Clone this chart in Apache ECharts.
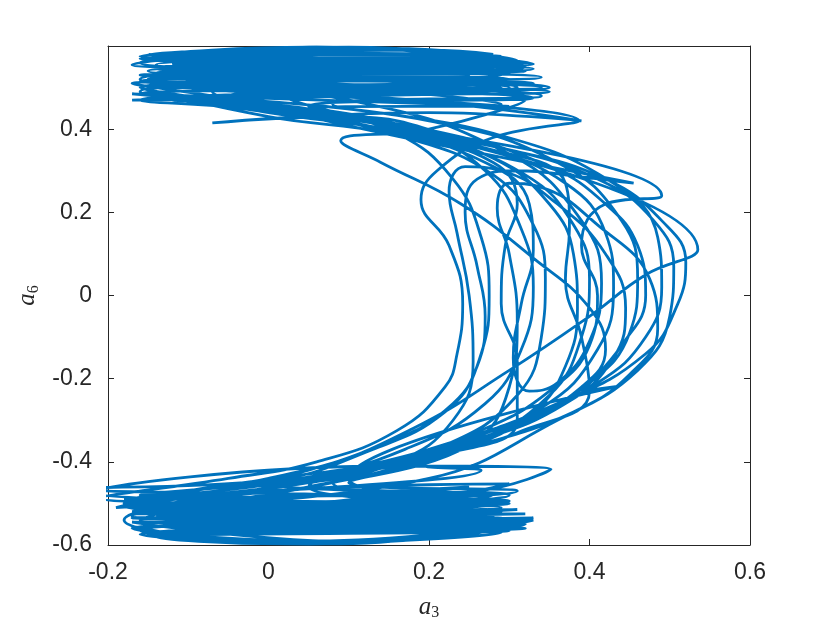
<!DOCTYPE html>
<html>
<head>
<meta charset="utf-8">
<script src="https://cdn.jsdelivr.net/npm/echarts@6/dist/echarts.min.js"></script>
<style>
  html, body { margin: 0; background: #fff; }
  #chart { width: 830px; height: 623px; }
</style>
</head>
<body>
<div id="chart"></div>
<script>
// trajectory pieces, [a3, a6] pairs
// top* = sweeps in the upper band, down* = drop to the lower band,
// bot* = sweeps in the lower band, up* = climb back, loop* = excursion out of a band and back
const top1 = [[0.02,0.45],[-0.16,0.50],[0.34,0.525],[-0.16,0.56],[0.06,0.597],[0.33,0.557],[-0.10,0.55],[0.28,0.545],[-0.15,0.52],[0.35,0.49],[-0.02,0.47],[0.455,0.27]];
const down1 = [[0.39,0.285],[0.31,0.30],[0.26,0.28],[0.245,0.20],[0.26,0.07],[0.27,-0.05],[0.26,-0.17],[0.22,-0.28],[0.13,-0.37],[0.0,-0.445],[-0.23,-0.465]];
const bot1 = [[0.10,-0.48],[0.30,-0.494],[-0.18,-0.50],[0.29,-0.52],[-0.16,-0.565],[0.10,-0.595],[0.33,-0.535],[-0.12,-0.55],[0.27,-0.545],[-0.17,-0.53]];
const up1 = [[0.08,-0.45],[0.25,-0.36],[0.35,-0.24],[0.39,-0.10],[0.40,0.04],[0.38,0.17],[0.32,0.29],[0.20,0.38],[0.03,0.45]];

const top2 = [[-0.15,0.49],[0.30,0.55],[-0.13,0.575],[0.10,0.593],[0.31,0.565],[-0.08,0.56],[0.26,0.55],[-0.14,0.535],[0.33,0.51],[-0.10,0.50],[0.387,0.42]];
const down2 = [[0.28,0.38],[0.21,0.30],[0.19,0.23],[0.225,0.12],[0.242,-0.02],[0.235,-0.14],[0.22,-0.22],[0.16,-0.325],[0.06,-0.40],[-0.05,-0.44],[-0.21,-0.487]];
const bot2 = [[0.12,-0.50],[0.30,-0.453],[0.0,-0.47],[-0.18,-0.54],[0.06,-0.59],[0.29,-0.555],[-0.15,-0.57],[0.05,-0.598],[0.31,-0.545],[-0.17,-0.51],[0.30,-0.50],[0.10,-0.44],[0.437,-0.218]];
const up2 = [[0.39,-0.23],[0.44,-0.12],[0.47,0.0],[0.46,0.12],[0.42,0.22],[0.35,0.31],[0.22,0.39],[0.05,0.44]];

const top3 = [[-0.17,0.485],[0.30,0.455],[-0.12,0.53],[0.29,0.565],[-0.16,0.57],[0.20,0.59],[0.28,0.58],[-0.05,0.585],[0.24,0.56],[-0.11,0.545],[0.35,0.50],[0.02,0.48],[0.535,0.11]];
const down3 = [[0.47,0.05],[0.40,-0.05],[0.30,-0.18],[0.18,-0.32],[0.05,-0.42],[-0.10,-0.47],[-0.19,-0.51]];
const bot3 = [[0.25,-0.46],[-0.15,-0.55],[0.32,-0.56],[-0.16,-0.575],[0.04,-0.597],[0.28,-0.565],[-0.10,-0.56],[0.31,-0.515],[-0.14,-0.52]];
const up3 = [[0.05,-0.46],[0.20,-0.39],[0.31,-0.30],[0.31,-0.16],[0.29,-0.02],[0.295,0.12],[0.31,0.22],[0.28,0.32],[0.15,0.39],[0.0,0.43]];

const top4 = [[-0.16,0.50],[0.27,0.51],[-0.14,0.525],[0.32,0.54],[-0.17,0.555],[0.15,0.592],[0.30,0.57],[-0.13,0.565],[0.29,0.53],[-0.09,0.51],[0.33,0.475],[0.05,0.455]];
const down4 = [[0.18,0.40],[0.27,0.30],[0.315,0.16],[0.33,0.02],[0.315,-0.13],[0.27,-0.26],[0.17,-0.37],[0.03,-0.45],[-0.17,-0.52]];
const bot4 = [[0.29,-0.52],[-0.15,-0.545],[0.31,-0.54],[-0.16,-0.56],[0.08,-0.594],[0.30,-0.56],[-0.12,-0.575],[0.26,-0.545],[-0.18,-0.505],[0.05,-0.45]];
const loop4 = [[0.16,-0.40],[0.23,-0.30],[0.255,-0.16],[0.25,0.0],[0.235,0.15],[0.225,0.25],[0.245,0.31],[0.29,0.30],[0.36,0.22],[0.42,0.10],[0.445,-0.03],[0.43,-0.15],[0.37,-0.26],[0.26,-0.35],[0.12,-0.42],[-0.02,-0.47],[-0.18,-0.50]];
const bot4b = [[0.29,-0.50],[-0.14,-0.53],[0.28,-0.48],[0.0,-0.45]];
const up4 = [[0.20,-0.38],[0.34,-0.27],[0.41,-0.13],[0.43,0.02],[0.42,0.15],[0.37,0.27],[0.26,0.36],[0.10,0.43]];

const top5 = [[-0.07,0.415],[0.20,0.44],[0.39,0.42],[0.05,0.48],[-0.17,0.47],[0.31,0.50],[-0.14,0.555],[0.26,0.575],[-0.15,0.58],[0.08,0.596],[0.32,0.56],[-0.07,0.57],[0.30,0.535],[-0.16,0.53],[0.34,0.50],[-0.05,0.48]];
const down5 = [[0.20,0.42],[0.36,0.32],[0.44,0.18],[0.46,0.04],[0.45,-0.09],[0.40,-0.21],[0.30,-0.32],[0.15,-0.41],[-0.02,-0.46],[-0.18,-0.49]];
const bot5 = [[0.27,-0.475],[-0.13,-0.535],[0.30,-0.55],[-0.17,-0.545],[0.12,-0.593],[0.33,-0.54],[-0.14,-0.58],[0.02,-0.597],[0.29,-0.57],[-0.11,-0.56],[0.25,-0.52],[-0.06,-0.49],[0.265,-0.42]];
const up5 = [[0.19,-0.405],[0.31,-0.33],[0.40,-0.23],[0.39,-0.10],[0.37,0.04],[0.375,0.16],[0.37,0.27],[0.26,0.36],[0.10,0.43],[0.0,0.46]];

const top6 = [[-0.12,0.47],[0.29,0.49],[-0.16,0.515],[0.33,0.545],[-0.15,0.57],[0.10,0.597],[0.29,0.575],[-0.10,0.58],[0.27,0.555],[-0.13,0.55],[0.28,0.515],[-0.07,0.49],[0.49,0.24]];
const down6 = [[0.42,0.22],[0.39,0.12],[0.41,0.0],[0.40,-0.12],[0.35,-0.23],[0.27,-0.32],[0.15,-0.40],[0.0,-0.45],[-0.16,-0.48]];
const bot6 = [[0.28,-0.505],[-0.17,-0.525],[0.32,-0.525],[-0.15,-0.56],[0.06,-0.596],[0.31,-0.55],[-0.13,-0.57],[0.27,-0.56],[-0.08,-0.53],[0.30,-0.48],[0.05,-0.45]];
const up6 = [[0.20,-0.37],[0.36,-0.26],[0.47,-0.14],[0.51,-0.02],[0.52,0.08],[0.49,0.18],[0.42,0.28],[0.30,0.35],[0.15,0.40],[0.0,0.44]];

const top7 = [[-0.16,0.49],[0.28,0.53],[-0.12,0.555],[0.30,0.55],[-0.16,0.575],[0.15,0.594],[0.31,0.565],[-0.09,0.545],[0.25,0.53],[-0.15,0.505],[0.32,0.47],[0.20,0.40],[0.09,0.372]];
const down7 = [[0.14,0.32],[0.24,0.22],[0.33,0.09],[0.40,-0.03],[0.42,-0.13],[0.39,-0.22],[0.31,-0.31],[0.19,-0.38],[0.04,-0.44],[-0.15,-0.50]];
const bot7 = [[0.30,-0.54],[-0.17,-0.56],[0.05,-0.593],[0.32,-0.55],[-0.12,-0.54],[0.29,-0.50],[-0.16,-0.515],[0.26,-0.47],[0.352,-0.418],[0.15,-0.41],[-0.22,-0.475],[0.28,-0.50],[0.08,-0.45]];
const up7 = [[0.24,-0.37],[0.33,-0.28],[0.37,-0.17],[0.385,-0.03],[0.38,0.10],[0.35,0.22],[0.28,0.33],[0.15,0.41],[0.0,0.46]];

const top8 = [[-0.17,0.51],[0.30,0.52],[-0.14,0.545],[0.27,0.57],[-0.15,0.565],[0.12,0.596],[0.32,0.55],[-0.11,0.53],[0.34,0.48],[0.08,0.46]];
const down8 = [[0.28,0.39],[0.43,0.27],[0.485,0.14],[0.49,0.02],[0.47,-0.10],[0.41,-0.21],[0.30,-0.31],[0.15,-0.40],[0.0,-0.46],[-0.16,-0.54]];
const bot8 = [[0.31,-0.56],[-0.15,-0.575],[0.09,-0.597],[0.30,-0.545],[-0.17,-0.535],[0.28,-0.53],[-0.13,-0.515],[0.31,-0.47],[0.10,-0.45]];
const loop8 = [[0.25,-0.36],[0.30,-0.22],[0.31,-0.06],[0.30,0.10],[0.285,0.21],[0.30,0.27],[0.34,0.26],[0.41,0.17],[0.475,0.04],[0.485,-0.08],[0.45,-0.19],[0.38,-0.28],[0.26,-0.36],[0.10,-0.43],[-0.05,-0.48],[-0.17,-0.51]];
const bot8b = [[0.27,-0.50],[0.05,-0.46]];
const up8 = [[0.22,-0.36],[0.31,-0.24],[0.34,-0.10],[0.345,0.04],[0.33,0.17],[0.28,0.29],[0.17,0.38],[0.02,0.44]];

const top9 = [[-0.16,0.47],[0.30,0.50],[-0.15,0.54],[0.31,0.56],[-0.13,0.58],[0.05,0.597],[0.26,0.57],[-0.16,0.52]];
const loop9 = [[0.10,0.47],[0.30,0.34],[0.39,0.18],[0.415,0.03],[0.40,-0.11],[0.36,-0.21],[0.325,-0.23],[0.305,-0.15],[0.315,-0.02],[0.33,0.11],[0.325,0.22],[0.27,0.32],[0.12,0.41],[-0.05,0.46],[-0.16,0.485]];
const top9b = [[0.29,0.50],[-0.10,0.53],[0.29,0.46],[0.06,0.45]];
const down9 = [[0.16,0.39],[0.23,0.28],[0.265,0.14],[0.275,0.0],[0.265,-0.14],[0.23,-0.26],[0.14,-0.36],[0.0,-0.44],[-0.17,-0.49]];
const bot9 = [[0.29,-0.51],[-0.16,-0.54],[0.30,-0.565],[-0.12,-0.58],[0.07,-0.597],[0.30,-0.54],[-0.15,-0.52],[0.20,-0.44]];
const up9 = [[0.36,-0.30],[0.46,-0.18],[0.50,-0.05],[0.505,0.07],[0.48,0.18],[0.41,0.28],[0.28,0.36],[0.12,0.42]];

const xTicks = [-0.2, 0, 0.2, 0.4, 0.6];
const yTicks = [-0.6, -0.4, -0.2, 0, 0.2, 0.4];

const trajectory = [].concat(
  top1, down1, bot1, up1,
  top2, down2, bot2, up2,
  top3, down3, bot3, up3,
  top4, down4, bot4, loop4, bot4b, up4,
  top5, down5, bot5, up5,
  top6, down6, bot6, up6,
  top7, down7, bot7, up7,
  top8, down8, bot8, loop8, bot8b, up8,
  top9, loop9, top9b, down9, bot9, up9
);

const axisColor = '#262626';
const labelFont = { color: axisColor, fontSize: 23, fontFamily: 'Liberation Sans' };
const nameRich = {
  v: { fontFamily: 'Liberation Serif', fontStyle: 'italic', fontSize: 25, lineHeight: 28, color: axisColor },
  s: { fontFamily: 'Liberation Serif', fontSize: 16, lineHeight: 16, verticalAlign: 'bottom', color: axisColor }
};

const baseAxis = {
  type: 'value',
  splitLine: { show: false },
  axisLine: { show: true, onZero: false, lineStyle: { color: axisColor, width: 1 } },
  axisTick: { show: true, inside: true, length: 6, lineStyle: { color: axisColor } }
};

const chart = echarts.init(document.getElementById('chart'));
chart.setOption({
  animation: false,
  backgroundColor: '#fff',
  grid: { left: 108, right: 80, top: 46, bottom: 78, outerBoundsMode: 'none' },
  xAxis: [
    Object.assign({}, baseAxis, {
      min: xTicks[0], max: xTicks[xTicks.length - 1], interval: 0.2,
      axisLabel: Object.assign({ margin: 16 }, labelFont),
      name: '{v|a}{s|3}', nameLocation: 'middle', nameGap: 48,
      nameTextStyle: { rich: nameRich }
    }),
    Object.assign({}, baseAxis, {
      position: 'top', min: xTicks[0], max: xTicks[xTicks.length - 1], interval: 0.2,
      axisLabel: { show: false }
    })
  ],
  yAxis: [
    Object.assign({}, baseAxis, {
      min: yTicks[0], max: 0.6, interval: 0.2,
      axisLabel: Object.assign({ margin: 16, showMaxLabel: false }, labelFont),
      name: '{v|a}{s|6}', nameLocation: 'middle', nameGap: 56,
      nameTextStyle: { rich: nameRich }
    }),
    Object.assign({}, baseAxis, {
      position: 'right', min: yTicks[0], max: 0.6, interval: 0.2,
      axisLabel: { show: false }
    })
  ],
  series: [{
    type: 'line',
    data: trajectory,
    smooth: 0.45,
    showSymbol: false,
    clip: true,
    lineStyle: { color: '#0072BD', width: 2.8 }
  }]
});
</script>
</body>
</html>
